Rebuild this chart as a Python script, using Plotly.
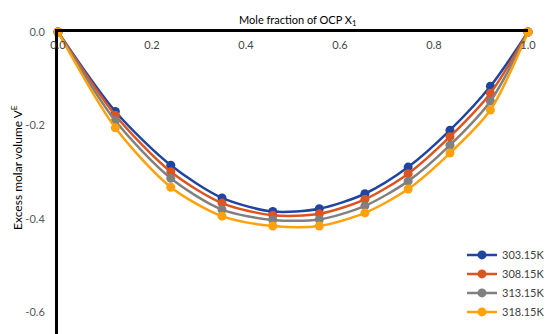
import plotly.graph_objects as go

x_vals = [0.0, 0.122, 0.240, 0.349, 0.457, 0.556, 0.653, 0.745, 0.834, 0.920, 1.0]
v_303 = [0.0, -0.170, -0.285, -0.355, -0.384, -0.378, -0.346, -0.289, -0.210, -0.116, 0.0]
v_308 = [0.0, -0.178, -0.299, -0.366, -0.392, -0.389, -0.358, -0.303, -0.224, -0.131, 0.0]
v_313 = [0.0, -0.190, -0.313, -0.380, -0.402, -0.401, -0.372, -0.319, -0.242, -0.148, 0.0]
v_318 = [0.0, -0.205, -0.332, -0.394, -0.415, -0.415, -0.387, -0.336, -0.259, -0.167, 0.0]
series_names = ["303.15K", "308.15K", "313.15K", "318.15K"]
colors = ["#1F45A0", "#DC5420", "#808080", "#FFA10A"]

FONT = "Lato"
fig = go.Figure()
for name, ys, c in zip(series_names, [v_303, v_308, v_313, v_318], colors):
    fig.add_trace(go.Scatter(
        x=x_vals, y=ys, name=name, mode="lines+markers",
        line=dict(color=c, width=2.5, shape="spline", smoothing=0.8),
        marker=dict(color=c, size=9),
        cliponaxis=False,
    ))

fig.update_layout(
    width=550, height=334,
    margin=dict(l=58, r=17, t=32, b=0),
    paper_bgcolor="white", plot_bgcolor="white",
    font=dict(family=FONT, size=11, color="#595959"),
    showlegend=True,
    legend=dict(x=0.86, y=0.31, xanchor="left", yanchor="top",
                bgcolor="rgba(0,0,0,0)", tracegroupgap=0,
                font=dict(size=11, color="#404040"), itemwidth=30),
    xaxis=dict(
        range=[0, 1.0], side="top", tickvals=[0, 0.2, 0.4, 0.6, 0.8, 1.0],
        ticktext=["0.0", "0.2", "0.4", "0.6", "0.8", "1.0"],
        ticklabelposition="inside", ticklabeloverflow="allow",
        ticks="", showgrid=False, zeroline=False,
        showline=True, linecolor="black", linewidth=3,
        ticklabelstandoff=9,
    ),
    yaxis=dict(
        range=[-0.646, 0], tickvals=[0, -0.2, -0.4, -0.6],
        ticktext=["0.0", "-0.2", "-0.4", "-0.6"],
        ticklabeloverflow="allow",
        ticks="", showgrid=False, zeroline=False,
        showline=True, linecolor="black", linewidth=3,
        ticklabelstandoff=8,
    ),
    annotations=[
        dict(text="Mole fraction of OCP X<sub>1</sub>", xref="paper", yref="paper",
             x=0.51, y=1.0, yshift=21, showarrow=False,
             font=dict(family=FONT, size=11, color="black")),
        dict(text="Excess molar volume V<sup>E</sup>", xref="paper", yref="paper",
             x=0, xshift=-41, y=0.55, xanchor="center", yanchor="middle",
             textangle=-90, showarrow=False,
             font=dict(family=FONT, size=12, color="black")),
    ],
)

fig.write_html("out.html")
